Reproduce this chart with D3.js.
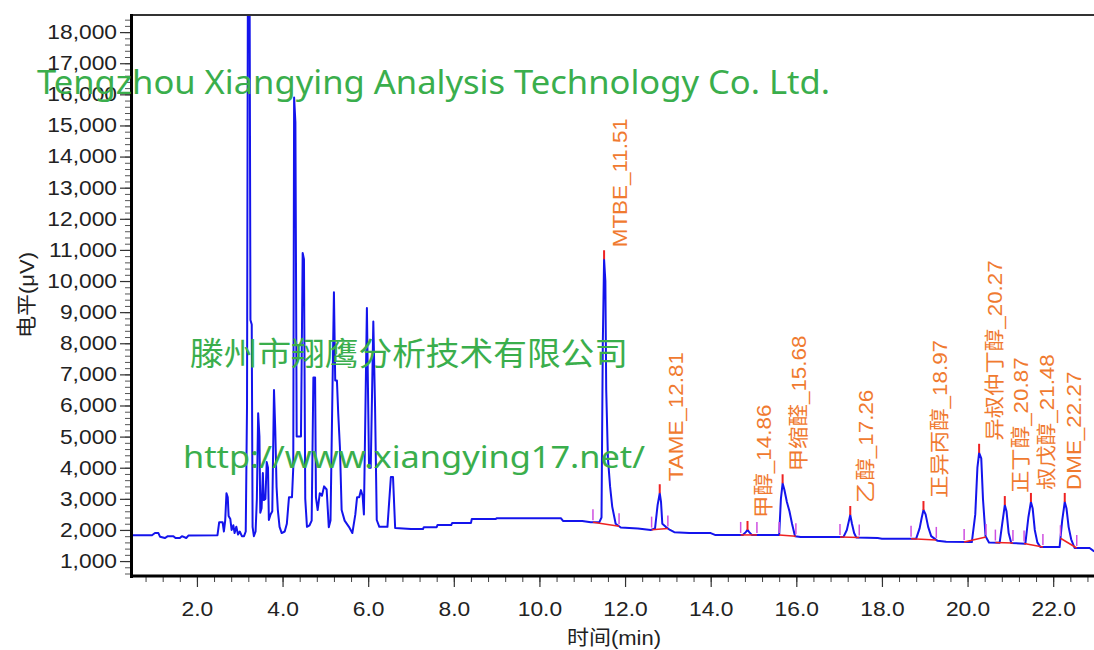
<!DOCTYPE html>
<html lang="zh">
<head>
<meta charset="utf-8">
<title>色谱图</title>
<script src="https://d3js.org/d3.v7.min.js"></script>
<style>
  body { margin: 0; background: #fff; }
  svg { display: block; }
</style>
</head>
<body>
<div id="chart"></div>
<script>

// chromatogram trace: time (min) and level (uV)
var traceTime = [
  0.45, 0.95, 1.02, 1.10, 1.14, 1.25, 1.32, 1.45, 1.50, 1.60, 1.65, 1.75, 1.80, 2.48,
  2.52, 2.60, 2.63, 2.66, 2.69, 2.72, 2.74, 2.78, 2.81, 2.85, 2.88, 2.92, 2.96, 3.00, 3.05, 3.10, 3.14,
  3.17, 3.19, 3.23, 3.25, 3.28, 3.30, 3.33, 3.37,
  3.40, 3.43, 3.46, 3.48, 3.51, 3.54, 3.56, 3.60, 3.63, 3.66, 3.68, 3.72, 3.76,
  3.80, 3.83, 3.86, 3.89, 3.93, 3.98, 4.05, 4.10, 4.15, 4.22, 4.25,
  4.27, 4.30, 4.33, 4.43, 4.47, 4.50, 4.53, 4.57, 4.63, 4.68,
  4.72, 4.76, 4.78, 4.82, 4.87, 4.92, 4.97, 5.03, 5.08, 5.12,
  5.20, 5.23, 5.27, 5.30, 5.34, 5.38, 5.45, 5.55, 5.63, 5.70, 5.74, 5.79, 5.83, 5.87, 5.90,
  5.97, 6.02, 6.06, 6.12, 6.16, 6.20, 6.26, 6.45, 6.53, 6.58, 6.63,
  7.00, 7.28, 7.30, 7.60, 7.62, 7.94, 7.96, 8.40, 8.42, 8.98, 9.00, 10.50, 10.55, 11.00, 11.20, 11.40,
  11.45, 11.48, 11.51, 11.54, 11.56, 11.60, 11.65, 11.70, 11.78, 11.90, 12.30, 12.60,
  12.70, 12.76, 12.81, 12.84, 12.87, 12.95, 13.05, 13.15, 13.50, 14.00, 14.10, 14.75,
  14.82, 14.86, 14.90, 14.96, 15.60,
  15.64, 15.68, 15.72, 15.78, 15.84, 15.90, 15.97, 16.10, 17.10,
  17.18, 17.23, 17.26, 17.30, 17.35, 17.40, 17.90, 18.00, 18.80,
  18.88, 18.93, 18.97, 19.02, 19.08, 19.15, 19.30, 19.50, 20.10,
  20.18, 20.23, 20.27, 20.32, 20.36, 20.42, 20.50, 20.75,
  20.81, 20.87, 20.91, 20.96, 21.02, 21.35,
  21.42, 21.48, 21.52, 21.57, 21.63, 21.70, 22.15,
  22.21, 22.27, 22.31, 22.36, 22.42, 22.50, 22.85, 22.95, 23.00
];
var traceLevel = [
  1830, 1830, 1900, 1900, 1780, 1740, 1800, 1800, 1740, 1740, 1800, 1740, 1820, 1830,
  2250, 2250, 1950, 2300, 3180, 3050, 2450, 2350, 2000, 2150, 1900, 2100, 1850, 1950, 1800, 1800, 1950,
  6000, 19500, 19500, 8750, 8600, 2100, 1800, 1950,
  3000, 5750, 5000, 2550, 2700, 3830, 2960, 3000, 4180, 4000, 2320, 2500, 2600,
  6500, 5200, 3380, 2640, 2100, 1900, 1950, 2200, 3050, 3050, 4000,
  15900, 15100, 5000, 5000, 10900, 10700, 3000, 2100, 2150, 2300,
  6900, 6900, 3050, 2640, 3180, 3100, 3400, 3300, 2090, 2300,
  9640, 6800, 6800, 5750, 4660, 2640, 2300, 2100, 1900, 2500, 3050, 3050, 3280, 3100, 2500,
  9130, 4000, 4000, 8700, 6000, 2320, 2100, 2100, 3700, 3700, 2060,
  2030, 2030, 2090, 2090, 2160, 2160, 2220, 2220, 2350, 2350, 2380, 2380, 2290, 2290, 2250, 2250,
  2400, 8000, 10700, 10000, 6500, 4300, 3400, 2750, 2200, 2080, 2050, 2000,
  2050, 2800, 3180, 2900, 2200, 2100, 2000, 1930, 1900, 1900, 1840, 1840,
  1930, 2000, 1930, 1840, 1840,
  3000, 3500, 3300, 2900, 2600, 2200, 1800, 1770, 1770,
  2000, 2300, 2480, 2200, 1900, 1760, 1740, 1720, 1720,
  2050, 2400, 2640, 2500, 2100, 1800, 1650, 1620, 1610,
  2500, 4000, 4480, 4300, 3000, 1800, 1600, 1590,
  2200, 2800, 2600, 1900, 1580, 1560,
  2400, 2900, 2700, 2000, 1600, 1450, 1450,
  2300, 2900, 2700, 2100, 1700, 1420, 1420, 1320, 1300
];

// integrated peaks
var peakNames = ["MTBE", "TAME", "甲醇", "甲缩醛", "乙醇", "正异丙醇", "异叔仲丁醇", "正丁醇", "叔戊醇", "DME"];
var peakTimes = [11.51, 12.81, 14.86, 15.68, 17.26, 18.97, 20.27, 20.87, 21.48, 22.27];
var peakStart = [11.25, 12.62, 14.70, 15.60, 17.02, 18.68, 19.92, 20.65, 21.32, 22.17];
var peakEnd   = [11.86, 13.00, 15.08, 15.99, 17.47, 19.27, 20.43, 21.06, 21.76, 22.55];

// axis ticks
var xTicks = [2, 4, 6, 8, 10, 12, 14, 16, 18, 20, 22];
var yTicks = [1000, 2000, 3000, 4000, 5000, 6000, 7000, 8000, 9000,
              10000, 11000, 12000, 13000, 14000, 15000, 16000, 17000, 18000];

var W = 1094, H = 650;
var plotLeft = 131, plotTop = 15, plotBottom = 577;

var svg = d3.select("#chart").append("svg")
    .attr("width", W)
    .attr("height", H);

var x = d3.scaleLinear().domain([0.46, 23.0]).range([plotLeft, 1096]);
var y = d3.scaleLinear().domain([520, 18550]).range([576, plotTop]);

// interpolated level of the trace at a given time (for markers)
function levelAt(t) {
  var i = d3.bisectLeft(traceTime, t);
  if (i <= 0) return traceLevel[0];
  if (i >= traceTime.length) return traceLevel[traceLevel.length - 1];
  var t0 = traceTime[i - 1], t1 = traceTime[i];
  return traceLevel[i - 1] + (t - t0) / (t1 - t0) * (traceLevel[i] - traceLevel[i - 1]);
}

// stretch text along its direction like the source picture
function stretch(sel, k) {
  sel.each(function() {
    var len = this.getComputedTextLength();
    d3.select(this).attr("textLength", len * k).attr("lengthAdjust", "spacingAndGlyphs");
  });
}

var tickFont = "'Liberation Sans', Arial, 'Noto Sans CJK SC', sans-serif";

// minor ticks
svg.append("g")
    .attr("transform", "translate(0," + plotBottom + ")")
    .call(d3.axisBottom(x).tickValues(d3.range(0.8, 23, 0.4)).tickSize(5).tickFormat(""))
    .call(function(g) { g.select(".domain").remove(); g.selectAll("line").attr("stroke", "#444"); });
svg.append("g")
    .attr("transform", "translate(" + (plotLeft - 1) + ",0)")
    .call(d3.axisLeft(y).tickValues(d3.range(600, 18550, 200)).tickSize(5).tickFormat(""))
    .call(function(g) { g.select(".domain").remove(); g.selectAll("line").attr("stroke", "#555"); });

// major ticks + labels
var xAxis = svg.append("g")
    .attr("transform", "translate(0," + plotBottom + ")")
    .call(d3.axisBottom(x).tickValues(xTicks).tickSize(10).tickPadding(15).tickFormat(d3.format(".1f")));
var yAxis = svg.append("g")
    .attr("transform", "translate(" + (plotLeft - 1) + ",0)")
    .call(d3.axisLeft(y).tickValues(yTicks).tickSize(10).tickPadding(3).tickFormat(d3.format(",")));

[xAxis, yAxis].forEach(function(g) {
  g.select(".domain").remove();
  g.selectAll("line").attr("stroke", "#333").attr("stroke-width", 1.2);
  g.selectAll("text")
      .attr("fill", "#222")
      .style("font-family", tickFont)
      .style("font-size", "20px");
  stretch(g.selectAll("text"), 1.14);
});

// frame
svg.append("line").attr("x1", plotLeft).attr("x2", W).attr("y1", plotTop).attr("y2", plotTop)
    .attr("stroke", "#333").attr("stroke-width", 2);
svg.append("line").attr("x1", plotLeft + 0.5).attr("x2", plotLeft + 0.5).attr("y1", plotTop - 1).attr("y2", plotBottom + 1)
    .attr("stroke", "#000").attr("stroke-width", 3);
svg.append("line").attr("x1", plotLeft - 1).attr("x2", W).attr("y1", plotBottom - 1).attr("y2", plotBottom - 1)
    .attr("stroke", "#000").attr("stroke-width", 3);

// axis titles
var xTitle = svg.append("text")
    .attr("x", 614).attr("y", 645)
    .attr("text-anchor", "middle")
    .style("font-family", tickFont).style("font-size", "20px").attr("fill", "#222")
    .text("时间(min)");
var yTitle = svg.append("text")
    .attr("transform", "translate(34,295) rotate(-90)")
    .attr("text-anchor", "middle")
    .style("font-family", tickFont).style("font-size", "20px").attr("fill", "#222")
    .text("电平(μV)");
stretch(xTitle, 1.1);
stretch(yTitle, 1.1);

// plot clip
svg.append("clipPath").attr("id", "plotclip")
  .append("rect").attr("x", plotLeft + 2).attr("y", plotTop + 1).attr("width", W - plotLeft).attr("height", plotBottom - plotTop - 3);

var plot = svg.append("g").attr("clip-path", "url(#plotclip)");

var trace = traceTime.map(function(t, i) { return [t, traceLevel[i]]; });

plot.append("path")
    .datum(trace)
    .attr("fill", "none")
    .attr("stroke", "#1414ec")
    .attr("stroke-width", 2)
    .attr("stroke-linejoin", "round")
    .attr("d", d3.line()
      .x(function(d) { return x(d[0]); })
      .y(function(d) { return y(d[1]); }));

// integration baselines
plot.selectAll(".base")
    .data(peakTimes)
  .enter().append("line")
    .attr("x1", function(d, i) { return x(peakStart[i]); })
    .attr("y1", function(d, i) { return y(levelAt(peakStart[i])); })
    .attr("x2", function(d, i) { return x(peakEnd[i]); })
    .attr("y2", function(d, i) { return y(levelAt(peakEnd[i])); })
    .attr("stroke", "#ee2222")
    .attr("stroke-width", 1.5);

// start / end markers
var marks = peakStart.concat(peakEnd);
plot.selectAll(".mark")
    .data(marks)
  .enter().append("line")
    .attr("x1", function(d) { return x(d); })
    .attr("x2", function(d) { return x(d); })
    .attr("y1", function(d) { return y(levelAt(d)) - 2; })
    .attr("y2", function(d) { return y(levelAt(d)) - 13; })
    .attr("stroke", "#cf4fe0")
    .attr("stroke-width", 1.5);

// apex markers
plot.selectAll(".apex")
    .data(peakTimes)
  .enter().append("line")
    .attr("x1", function(d) { return x(d); })
    .attr("x2", function(d) { return x(d); })
    .attr("y1", function(d) { return y(levelAt(d)); })
    .attr("y2", function(d) { return y(levelAt(d)) - 9; })
    .attr("stroke", "#ee2222")
    .attr("stroke-width", 2);

// peak labels
var labels = svg.selectAll(".plabel")
    .data(peakTimes)
  .enter().append("text")
    .attr("transform", function(d) {
      var lx = Math.min(x(d) + 16, W - 20);
      return "translate(" + lx + "," + (y(levelAt(d)) - 12) + ") rotate(-90)";
    })
    .attr("dy", "0.36em")
    .attr("fill", "#f07a30")
    .style("font-family", tickFont)
    .style("font-size", "20px")
    .text(function(d, i) { return peakNames[i] + "_" + d.toFixed(2); });
stretch(labels, 1.12);

// watermarks
var green = "#3aae4c";
svg.append("text")
    .attr("x", 37).attr("y", 94)
    .attr("textLength", 793).attr("lengthAdjust", "spacingAndGlyphs")
    .attr("fill", green)
    .style("font-family", "'Noto Sans', 'Open Sans', sans-serif").style("font-size", "32px")
    .text("Tengzhou Xiangying Analysis Technology Co. Ltd.");
svg.append("text")
    .attr("x", 190).attr("y", 365)
    .attr("textLength", 438).attr("lengthAdjust", "spacingAndGlyphs")
    .attr("fill", green)
    .style("font-family", "'Noto Sans CJK SC', sans-serif").style("font-size", "32px")
    .text("滕州市翔鹰分析技术有限公司");
svg.append("text")
    .attr("x", 183).attr("y", 468)
    .attr("textLength", 462).attr("lengthAdjust", "spacingAndGlyphs")
    .attr("fill", green)
    .style("font-family", "'Noto Sans', 'Open Sans', sans-serif").style("font-size", "31px")
    .text("http://www.xiangying17.net/");

</script>
</body>
</html>
